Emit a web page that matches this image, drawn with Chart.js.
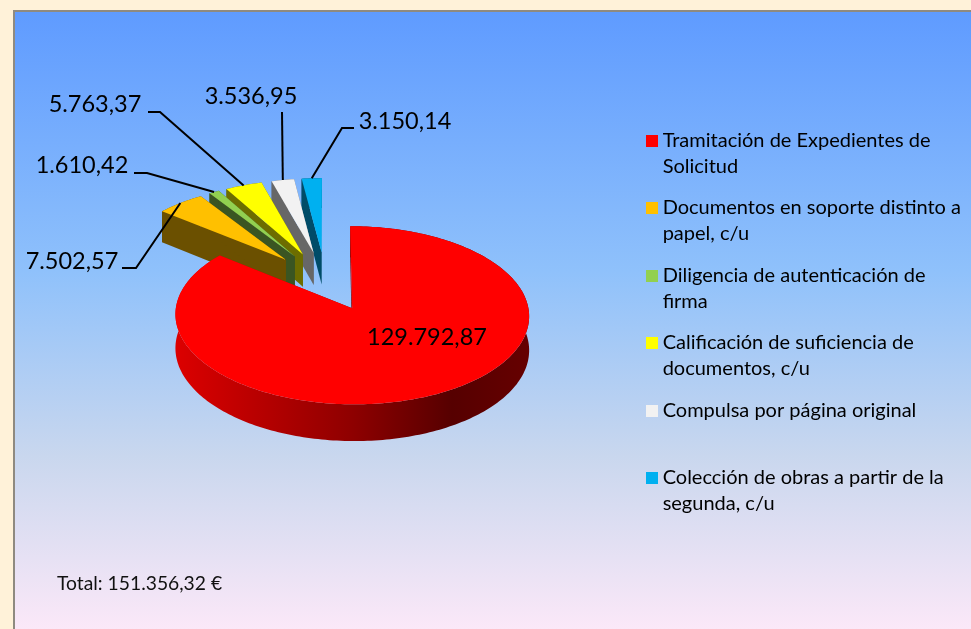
<!DOCTYPE html>
<html>
<head>
<meta charset="utf-8">
<style>html,body{margin:0;padding:0;background:#FFF2D9}canvas{display:block}</style>
<script src="https://cdn.jsdelivr.net/npm/chart.js@4"></script>
</head>
<body>
<canvas id="c" width="971" height="629"></canvas>
<script>
const categories = [
  ['Tramitación de Expedientes de', 'Solicitud'],
  ['Documentos en soporte distinto a', 'papel, c/u'],
  ['Diligencia de autenticación de', 'firma'],
  ['Calificación de suficiencia de', 'documentos, c/u'],
  ['Compulsa por página original', ''],
  ['Colección de obras a partir de la', 'segunda, c/u']
];
const values = [129792.87, 7502.57, 1610.42, 5763.37, 3536.95, 3150.14];
const valueLabels = ['129.792,87', '7.502,57', '1.610,42', '5.763,37', '3.536,95', '3.150,14'];
const totalLabel = 'Total: 151.356,32 €';
const topColors = ['#FF0000', '#FFC000', '#92D050', '#FFFF00', '#F2F2F2', '#00B0F0'];
const sideColors = [null, '#6B5000', '#3A5522', '#6D6D00', '#676767', '#004C68'];

// Oblique view of the pie plane
const view = {x: 325.5, y: 281, k: 0.49, p: 0.00045, depth: 33};
// Leader elbows and label anchors per slice (null leader = label sits on the slice)
const labelLayout = [
  {x: 427, y: 337, leader: null},
  {x: 72, y: 261, leader: [[122, 268], [136, 268]]},
  {x: 82, y: 165, leader: [[134, 173], [147, 173]]},
  {x: 95, y: 104, leader: [[148, 112], [160, 112]]},
  {x: 251, y: 96, leader: [[282, 112]]},
  {x: 405, y: 121, leader: [[354, 128], [342, 128]]}
];
const FONT = 'Lato';

function project(u, v, h) {
  const s = 1 / (1 - view.p * v);
  return [view.x + u * s, view.y + view.k * v * s + h * s];
}

function swatch(color) {
  const c = document.createElement('canvas');
  c.width = 12; c.height = 12;
  const g = c.getContext('2d');
  g.fillStyle = color; g.fillRect(0, 0, 12, 12);
  return c;
}

function polygon(ctx, list) {
  ctx.beginPath();
  list.forEach((p, k) => k ? ctx.lineTo(p[0], p[1]) : ctx.moveTo(p[0], p[1]));
  ctx.closePath();
  ctx.fill();
}

const pie3d = {
  id: 'pie3d',
  beforeDraw(chart) {
    const {ctx, width, height} = chart;
    ctx.save();
    ctx.fillStyle = '#FFF2D9';
    ctx.fillRect(0, 0, width, height);
    ctx.fillStyle = '#8F8A80';
    ctx.fillRect(13, 10, width - 13, height - 10);
    const g = ctx.createLinearGradient(0, 12, 0, height);
    g.addColorStop(0, '#5F9BFF');
    g.addColorStop(0.42, '#8FC1FB');
    g.addColorStop(0.72, '#C9D7EE');
    g.addColorStop(1, '#FBE8F8');
    ctx.fillStyle = g;
    ctx.fillRect(15, 12, width - 15, height - 12);
    ctx.restore();
  },
  beforeDatasetsDraw(chart) {
    const {ctx} = chart;
    const arcs = chart.getDatasetMeta(0).data;
    const geo = arcs.map(arc => {
      const {startAngle, endAngle, outerRadius} = arc.getProps(['startAngle', 'endAngle', 'outerRadius'], true);
      const off = arc.options.offset;
      const mid = (startAngle + endAngle) / 2;
      const ax = Math.cos(mid) * off, ay = Math.sin(mid) * off;
      const rimPts = [];
      const n = Math.max(4, Math.ceil((endAngle - startAngle) / 0.02));
      for (let i = 0; i <= n; i++) {
        const t = startAngle + (endAngle - startAngle) * i / n;
        rimPts.push([ax + Math.cos(t) * outerRadius, ay + Math.sin(t) * outerRadius]);
      }
      const rim = [ax + Math.cos(mid) * outerRadius, ay + Math.sin(mid) * outerRadius];
      return {apex: [ax, ay], rimPts, rim};
    });
    ctx.save();
    for (let i = arcs.length - 1; i >= 0; i--) {
      const {apex, rimPts} = geo[i];
      let side = sideColors[i];
      if (!side) {
        const g = ctx.createLinearGradient(176, 0, 530, 0);
        g.addColorStop(0, '#DC0000');
        g.addColorStop(0.5, '#8E0000');
        g.addColorStop(0.78, '#560000');
        g.addColorStop(1, '#660000');
        side = g;
      }
      ctx.fillStyle = side;
      const up = p => project(p[0], p[1], 0);
      const down = p => project(p[0], p[1], view.depth);
      // curved outer wall
      polygon(ctx, rimPts.map(up).concat(rimPts.map(down).reverse()));
      // the two flat cut faces
      [rimPts[0], rimPts[rimPts.length - 1]].forEach(e => {
        polygon(ctx, [up(apex), up(e), down(e), down(apex)]);
      });
      ctx.fillStyle = arcs[i].options.backgroundColor;
      polygon(ctx, [up(apex)].concat(rimPts.map(up)));
    }
    // leaders and value labels
    ctx.strokeStyle = '#000';
    ctx.lineWidth = 2;
    ctx.lineJoin = 'miter';
    labelLayout.forEach((l, i) => {
      if (l.leader) {
        const end = project(geo[i].rim[0], geo[i].rim[1], 0);
        ctx.beginPath();
        l.leader.forEach((p, k) => k ? ctx.lineTo(p[0], p[1]) : ctx.moveTo(p[0], p[1]));
        ctx.lineTo(end[0], end[1]);
        ctx.stroke();
      }
    });
    ctx.fillStyle = '#000';
    ctx.font = '23.5px ' + FONT;
    ctx.textAlign = 'center';
    ctx.textBaseline = 'middle';
    labelLayout.forEach((l, i) => ctx.fillText(valueLabels[i], l.x, l.y));
    ctx.font = '19.3px ' + FONT;
    ctx.textAlign = 'left';
    ctx.fillStyle = '#111';
    ctx.fillText(totalLabel, 57, 584);
    ctx.restore();
    return false;
  }
};

new Chart(document.getElementById('c'), {
  type: 'pie',
  data: {
    labels: categories,
    datasets: [{data: values, backgroundColor: topColors, borderWidth: 0, offset: 60, radius: 172}]
  },
  options: {
    responsive: false,
    animation: false,
    layout: {padding: {top: 115, bottom: 77, right: 0, left: 0}},
    plugins: {
      tooltip: {enabled: false},
      legend: {
        display: true,
        position: 'right',
        align: 'start',
        labels: {
          font: {family: FONT, size: 20, lineHeight: 26 / 20},
          color: '#111',
          padding: 15.5,
          usePointStyle: true,
          pointStyleWidth: 0.5,
          boxHeight: 12,
          generateLabels: chart => categories.map((text, i) => ({
            text, index: i, hidden: false, lineWidth: 0,
            fillStyle: topColors[i], strokeStyle: topColors[i],
            pointStyle: swatch(topColors[i])
          }))
        }
      }
    }
  },
  plugins: [pie3d]
});
</script>
</body>
</html>
